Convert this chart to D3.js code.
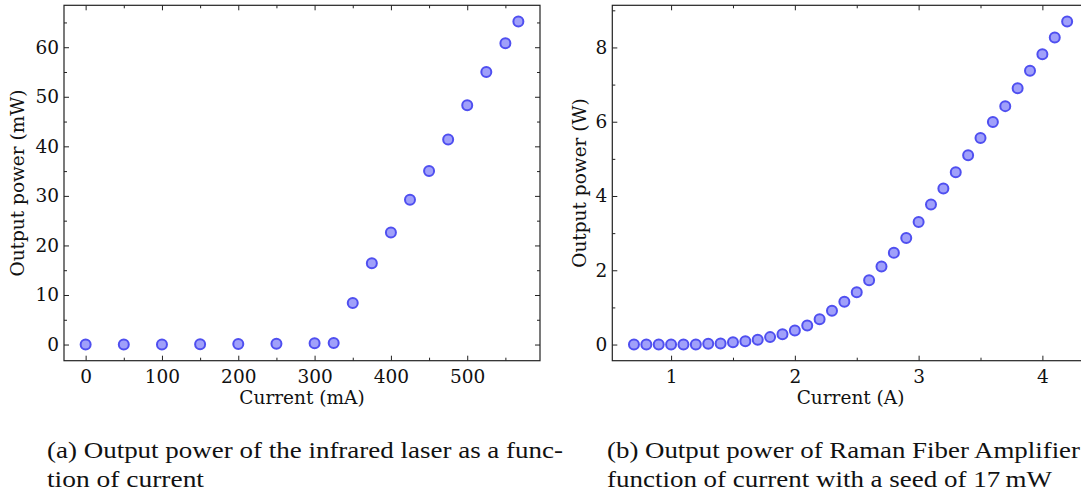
<!DOCTYPE html>
<html><head><meta charset="utf-8">
<script src="https://cdn.jsdelivr.net/npm/d3@7"></script>
<style>
html,body{margin:0;padding:0;background:#fff;}
svg{display:block;}
.tick text{font-family:"DejaVu Serif",serif;font-size:18.5px;fill:#111;}
.domain{display:none;}
.tick line{stroke:#222;stroke-width:1;}
</style>
</head><body>
<svg id="c" width="1081" height="495"></svg>
<script>
// Panel (a): infrared laser
const laserCurrent = [0,50,100,150,200,250,300,325,350,375,400,425,450,475,500,525,550,567];
const laserPower   = [0,0,0,0.05,0.1,0.15,0.25,0.3,8.4,16.4,22.6,29.2,35.0,41.4,48.3,55.0,60.8,65.2];
const laserXTicks = [0,100,200,300,400,500];
const laserYTicks = [0,10,20,30,40,50,60];
// Panel (b): Raman fiber amplifier
const ramanCurrent = [0.7,0.8,0.9,1.0,1.1,1.2,1.3,1.4,1.5,1.6,1.7,1.8,1.9,2.0,2.1,2.2,2.3,2.4,2.5,2.6,2.7,2.8,2.9,3.0,3.1,3.2,3.3,3.4,3.5,3.6,3.7,3.8,3.9,4.0,4.1,4.2];
const ramanPower   = [0,0,0,0,0,0,0.02,0.03,0.06,0.09,0.13,0.2,0.28,0.38,0.51,0.68,0.91,1.15,1.41,1.73,2.1,2.47,2.87,3.3,3.77,4.2,4.64,5.1,5.56,5.99,6.42,6.9,7.37,7.82,8.27,8.7];
const ramanXTicks = [1,2,3,4];
const ramanYTicks = [0,2,4,6,8];
const captionA = ["(a) Output power of the infrared laser as a func-", "tion of current"];
const captionB = ["(b) Output power of Raman Fiber Amplifier", "function of current with a seed of 17\u2009mW"];

const svg = d3.select("#c");
const fmt = d3.format("d");

function padded(arr){
  const [a,b] = d3.extent(arr); const m = (b-a)*0.05; return [a-m,b+m];
}

function panel(o){
  const x = d3.scaleLinear().domain(padded(o.xs)).range([o.left,o.right]);
  const y = d3.scaleLinear().domain(padded(o.ys)).range([o.bottom,o.top]);
  const g = svg.append("g");
  const inX = v => v>=x.domain()[0] && v<=x.domain()[1];
  const inY = v => v>=y.domain()[0] && v<=y.domain()[1];
  // major ticks with labels
  g.append("g").attr("transform",`translate(0,${o.bottom})`)
    .call(d3.axisBottom(x).tickValues(o.xt).tickFormat(fmt).tickSize(-5).tickPadding(9));
  g.append("g").attr("transform",`translate(${o.left},0)`)
    .call(d3.axisLeft(y).tickValues(o.yt).tickFormat(fmt).tickSize(-5).tickPadding(5));
  g.append("g").attr("transform",`translate(0,${o.top})`)
    .call(d3.axisTop(x).tickValues(o.xt).tickFormat("").tickSize(-5));
  g.append("g").attr("transform",`translate(${o.right},0)`)
    .call(d3.axisRight(y).tickValues(o.yt).tickFormat("").tickSize(-5));
  // minor ticks
  const xm = o.xminor.filter(inX), ym = o.yminor.filter(inY);
  g.append("g").attr("transform",`translate(0,${o.bottom})`).call(d3.axisBottom(x).tickValues(xm).tickFormat("").tickSize(-3));
  g.append("g").attr("transform",`translate(0,${o.top})`).call(d3.axisTop(x).tickValues(xm).tickFormat("").tickSize(-3));
  g.append("g").attr("transform",`translate(${o.left},0)`).call(d3.axisLeft(y).tickValues(ym).tickFormat("").tickSize(-3));
  g.append("g").attr("transform",`translate(${o.right},0)`).call(d3.axisRight(y).tickValues(ym).tickFormat("").tickSize(-3));
  // frame
  g.append("rect").attr("x",o.left).attr("y",o.top).attr("width",o.right-o.left).attr("height",o.bottom-o.top)
    .attr("fill","none").attr("stroke","#222").attr("stroke-width",1.2);
  // points
  g.append("g").selectAll("circle").data(o.xs.map((v,i)=>[v,o.ys[i]])).join("circle")
    .attr("cx",d=>x(d[0])).attr("cy",d=>y(d[1])).attr("r",5)
    .attr("fill","#a0a0fa").attr("stroke","#4f4ff0").attr("stroke-width",2);
  // labels
  g.append("text").attr("x",(o.left+o.right)/2).attr("y",404).attr("text-anchor","middle")
    .attr("font-family","DejaVu Serif").attr("font-size",18.5).attr("fill","#111").text(o.xlabel);
  g.append("text").attr("transform",`translate(${o.ylx},${(o.top+o.bottom)/2}) rotate(-90)`).attr("text-anchor","middle")
    .attr("font-family","DejaVu Serif").attr("font-size",18.5).attr("fill","#111").text(o.ylabel);
}

panel({xs:laserCurrent, ys:laserPower, xt:laserXTicks, yt:laserYTicks,
  xminor:d3.range(-50,650,50).filter(v=>v%100!==0), yminor:d3.range(-5,75,10),
  left:64, right:540, top:5.3, bottom:360.7, xlabel:"Current (mA)", ylabel:"Output power (mW)", ylx:24});
panel({xs:ramanCurrent, ys:ramanPower, xt:ramanXTicks, yt:ramanYTicks,
  xminor:[0.5,1.5,2.5,3.5], yminor:[1,3,5,7,9],
  left:612.3, right:1088.8, top:5.3, bottom:360.7, xlabel:"Current (A)", ylabel:"Output power (W)", ylx:586});

function caption(lines, x, widths){
  lines.forEach((t,i)=>{
    svg.append("text").attr("x",x).attr("y",458+i*29).attr("font-family","Liberation Serif, serif")
      .attr("font-size",23).attr("fill","#111").attr("textLength",widths[i]).attr("lengthAdjust","spacingAndGlyphs").text(t);
  });
}
caption(captionA, 47, [516, 157]);
caption(captionB, 607, [473, 445]);
</script>
</body></html>
